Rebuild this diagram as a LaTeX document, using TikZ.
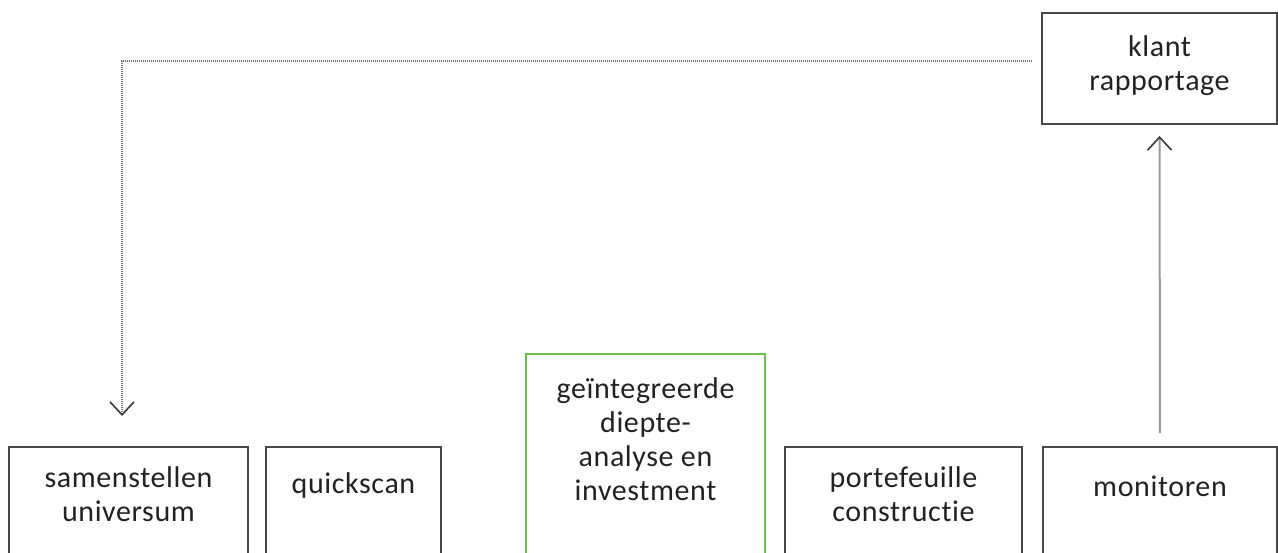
\documentclass[tikz,border=0pt]{standalone}
\usepackage{fontspec}
\setmainfont{Carlito}[Ligatures={NoCommon},LetterSpace=2]
\usetikzlibrary{arrows.meta}
\definecolor{boxgray}{HTML}{484848}
\definecolor{boxgreen}{HTML}{6CBF4A}
\definecolor{dotgray}{HTML}{707070}
\definecolor{upgray}{HTML}{9A9A9A}
\definecolor{tipgray}{HTML}{3A3A3A}
\definecolor{txt}{HTML}{222222}
\begin{document}
\begin{tikzpicture}[x=1pt,y=-1pt,
  box/.style={draw=boxgray, line width=2pt, inner sep=0pt, minimum height=150pt},
  greenbox/.style={box, draw=boxgreen, line width=2.5pt},
  lbl/.style={anchor=north, align=center, inner sep=0pt, text=txt,
    font=\fontsize{30}{34}\selectfont, execute at begin node=\strut},
  tip/.style={-{Straight Barb[length=13pt,width=24pt,line width=1.6pt,color=tipgray]}},
]
\useasboundingbox (0,0) rectangle (1278,553);
\clip (0,0) rectangle (1278,553);
% boxes
\node (sam)  [box, minimum width=239pt] at (128.5,522) {};
\node (qs)   [box, minimum width=175pt] at (353.5,522) {};
\node (gia)  [greenbox, minimum width=239pt, minimum height=260pt] at (645.5,484) {};
\node (port) [box, minimum width=237pt] at (903.5,522) {};
\node (mon)  [box, minimum width=234pt] at (1160,522) {};
\node (klant)[box, minimum width=235pt, minimum height=111pt] at (1159.5,68.5) {};
% texts
\node (samT)  [lbl] at (128.5,466) {samenstellen\\universum};
\node (qsT)   [lbl] at (353.5,469) {quickscan};
\node (giaT)  [lbl] at (645.5,377) {geïntegreerde\\diepte-\\analyse en\\investment};
\node (portT) [lbl] at (903.5,466) {portefeuille\\constructie};
\node (monT)  [lbl] at (1160,472) {monitoren};
\node (klantT)[lbl] at (1159.5,35) {klant\\rapportage};
% connectors
\draw[upgray, line width=2pt, tip, shorten <=13pt, shorten >=11pt] (mon.north) -- (klant.south);
\draw[dotgray, line width=2pt, dash pattern=on 1.2pt off 0.8pt, tip, shorten <=9pt, shorten >=30pt]
  ([yshift=7.5pt]klant.west) -| ([xshift=-6.5pt]sam.north);
\end{tikzpicture}
\end{document}
